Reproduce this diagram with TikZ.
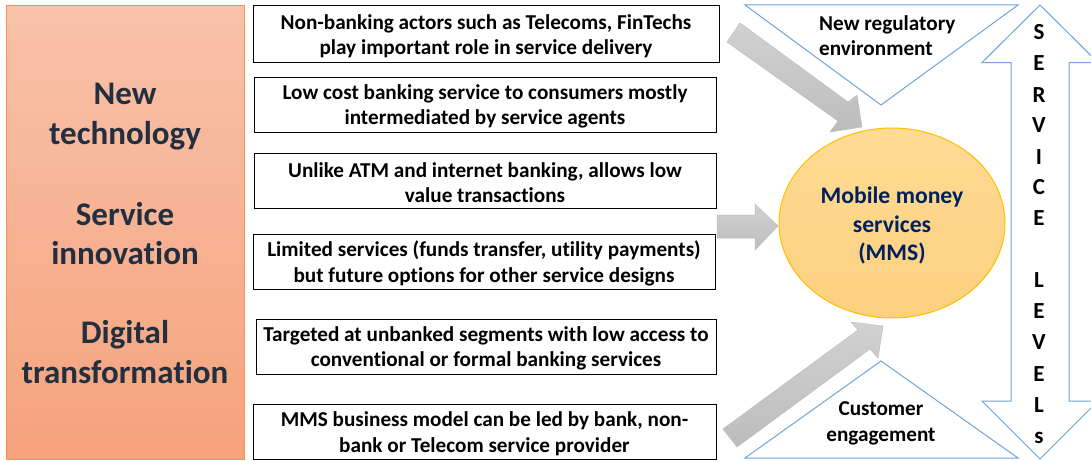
\documentclass[tikz,border=0pt]{standalone}
\usepackage{fontspec}
\setmainfont[RawFeature={-liga}]{Carlito}
\usetikzlibrary{shapes.geometric}
\definecolor{panelline}{HTML}{F2924F}
\definecolor{paneltop}{HTML}{F8C2AA}
\definecolor{panelbot}{HTML}{F6A27C}
\definecolor{paneltext}{HTML}{222F3E}
\definecolor{tribl}{HTML}{6FA6DA}
\definecolor{elltop}{HTML}{FFDB94}
\definecolor{ellbot}{HTML}{FCD080}
\definecolor{ellline}{HTML}{FFC000}
\definecolor{mmstext}{HTML}{002060}
\tikzset{
  x=1pt,y=-1pt,
  panel/.style={draw=panelline,line width=1pt,top color=paneltop,bottom color=panelbot},
  infobox/.style={draw=black,line width=1pt,fill=white},
  infotext/.style={font=\fontsize{21.2}{25.5}\selectfont\bfseries,align=center,text=black,inner sep=0pt},
  bigtext/.style={font=\fontsize{33}{39.5}\selectfont\bfseries,align=center,text=paneltext,inner sep=0pt},
  sidetext/.style={font=\fontsize{21.2}{25.5}\selectfont\bfseries,text=black,inner sep=0pt},
  outlined/.style={draw=tribl,line width=1pt,fill=white},
  greyarrow/.style={draw=black!25,line width=.5pt,top color=black!18,bottom color=black!26},
}
\newcommand{\tbox}[7]{%
  \path[infobox] (#2,#3) rectangle (#4,#5);
  \node[infotext] (#1) at ({(#2+#4)/2},{(#3+#5)/2+2}) {#6\\#7};}
\begin{document}
\begin{tikzpicture}
\useasboundingbox (0,0) rectangle (1091,460);
\fill[white] (0,0) rectangle (1091,460);
% left panel
\path[panel] (6,5.5) rectangle (244,459);
\node[bigtext] (newtech) at (125,116.5) {New\\technology};
\node[bigtext] (svc) at (125,233.5) {Service\\innovation};
\node[bigtext] (dig) at (125,352) {Digital\\transformation};
% boxes
\tbox{b1}{253}{6}{719}{62}{Non-banking actors such as Telecoms, FinTechs}{play important role in service delivery}
\tbox{b2}{254}{77}{716}{132}{Low cost banking service to consumers mostly}{intermediated by service agents}
\tbox{b3}{254}{153}{716}{208}{Unlike ATM and internet banking, allows low}{value transactions}
\tbox{b4}{253}{234}{715}{289}{Limited services (funds transfer, utility payments)}{but future options for other service designs}
\tbox{b5}{256}{319}{716}{374}{Targeted at unbanked segments with low access to}{conventional or formal banking services}
\tbox{b6}{253}{404}{716}{459}{MMS business model can be led by bank, non-}{bank or Telecom service provider}
% triangles
\path[outlined] (745,5) -- (1018,5) -- (881,105) -- cycle;
\node[sidetext,align=left,anchor=west] (reg) at (819,35.5) {New regulatory\\environment};
\path[outlined] (881,361) -- (1018,458) -- (745,458) -- cycle;
\node[sidetext,align=center] (cust) at (881,423.5) {Customer\\engagement};
% double arrow
\path[outlined] (1040,5) -- (1098,62.5) -- (1069,62.5) -- (1069,401) -- (1098,401) -- (1040,459)
  -- (982,401) -- (1011,401) -- (1011,62.5) -- (982,62.5) -- cycle;
\foreach \n/\l/\y in {s1/S/32,s2/E/63,s3/R/95,s4/V/125,s5/I/157,s6/C/187,s7/E/218,s8/L/280,s9/E/311,s10/V/342,s11/E/374,s12/L/405}
  \node[font=\fontsize{23}{23}\selectfont\bfseries,inner sep=0pt,text=black] (\n) at (1039,\y) {\l};
\node[font=\fontsize{23}{23}\selectfont\bfseries,inner sep=0pt,text=black] (s13) at (1039,438) {s};
% ellipse
\node[ellipse,draw=ellline,line width=1pt,top color=elltop,bottom color=ellbot,minimum width=226pt,minimum height=190pt,inner sep=0pt] (mms) at (892,223) {};
\node[font=\fontsize{23.7}{28.5}\selectfont\bfseries,align=center,text=mmstext,inner sep=0pt] (mmst) at (892,225.5) {Mobile money\\services\\(MMS)};
% grey block arrows
\path[greyarrow] (740,23) -- (848,102) -- (857,95) -- (862,127) -- (830,132) -- (838,121) -- (727,42) -- cycle;
\path[greyarrow] (717,215) -- (755,215) -- (755,204) -- (778,226) -- (755,250) -- (755,238) -- (717,238) -- cycle;
\path[greyarrow] (723,429) -- (858,330) -- (851,322) -- (883,326) -- (878,358) -- (870,349) -- (737,447) -- cycle;
\end{tikzpicture}
\end{document}
